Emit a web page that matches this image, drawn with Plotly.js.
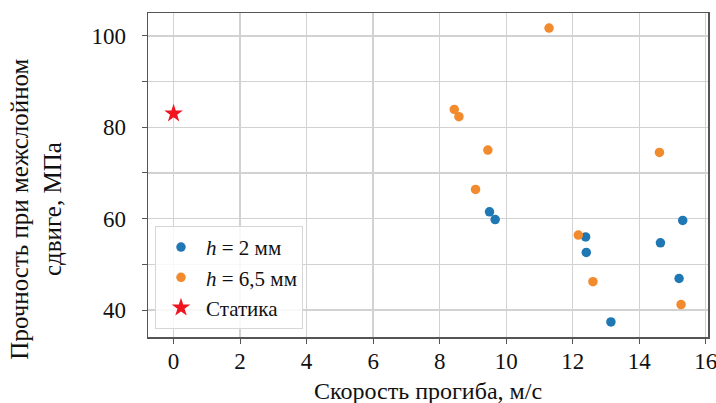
<!DOCTYPE html>
<html>
<head>
<meta charset="utf-8">
<script src="https://cdn.plot.ly/plotly-3.0.1.min.js"></script>
<style>
  html, body { margin: 0; padding: 0; background: #fff; }
  #chart { width: 716px; height: 403px; }
</style>
</head>
<body>
<div id="chart"></div>
<script>
// Interlaminar shear strength vs. deflection rate
const speedH2 = [9.50, 9.67, 12.39, 12.41, 13.15, 14.64, 15.31, 15.20];
const strengthH2 = [61.5, 59.8, 56.0, 52.6, 37.4, 54.7, 59.6, 46.9];

const speedH65 = [11.29, 8.44, 8.58, 9.45, 9.08, 12.17, 12.61, 14.61, 15.26];
const strengthH65 = [101.7, 83.9, 82.3, 75.0, 66.4, 56.4, 46.2, 74.5, 41.2];

const speedStatic = [0];
const strengthStatic = [83.0];

const seriesNames = ['<i>h</i> = 2 мм', '<i>h</i> = 6,5 мм', 'Статика'];

const xTickVals = [0, 2, 4, 6, 8, 10, 12, 14, 16];
const yTickVals = [40, 50, 60, 70, 80, 90, 100];
const yTickText = ['40', '', '60', '', '80', '', '100'];

const xTitle = 'Скорость прогиба, м/с';
const yTitle = 'Прочность при межслойном<br>сдвиге, МПа';

const serif = 'Liberation Serif, Times New Roman, serif';

const traces = [
  {
    x: speedH2, y: strengthH2, name: seriesNames[0],
    type: 'scatter', mode: 'markers',
    marker: { color: '#1f77b4', size: 9.5 }
  },
  {
    x: speedH65, y: strengthH65, name: seriesNames[1],
    type: 'scatter', mode: 'markers',
    marker: { color: '#f28a2e', size: 9.5 }
  },
  {
    x: speedStatic, y: strengthStatic, name: seriesNames[2],
    type: 'scatter', mode: 'markers',
    marker: { color: '#f0141e', size: 14, symbol: 'star' }
  }
];

const axisCommon = {
  showgrid: true,
  gridcolor: '#d2d2d2',
  gridwidth: 1.3,
  showline: true,
  mirror: true,
  linecolor: '#555',
  linewidth: 1.5,
  ticks: 'outside',
  ticklen: 5,
  tickwidth: 1,
  tickcolor: '#555',
  zeroline: false,
  ticklabeloverflow: 'allow',
  tickfont: { family: serif, size: 23, color: '#111' }
};

const layout = {
  width: 716,
  height: 403,
  margin: { l: 148, r: 8, t: 13, b: 66 },
  paper_bgcolor: '#fff',
  plot_bgcolor: '#fff',
  showlegend: true,
  xaxis: Object.assign({}, axisCommon, {
    range: [-0.77, 16.07],
    tickmode: 'array',
    tickvals: xTickVals,
    ticklabelstandoff: -2
  }),
  yaxis: Object.assign({}, axisCommon, {
    range: [34.1, 105.0],
    tickmode: 'array',
    tickvals: yTickVals,
    ticktext: yTickText,
    ticklabelstandoff: 11
  }),
  annotations: [
    {
      text: xTitle, xref: 'paper', yref: 'paper',
      x: 0.5, y: -0.167, xanchor: 'center', yanchor: 'middle',
      showarrow: false, font: { family: serif, size: 24, color: '#111' }
    },
    {
      text: yTitle, xref: 'paper', yref: 'paper', textangle: -90,
      x: -0.200, y: 0.393, xanchor: 'center', yanchor: 'middle',
      showarrow: false, font: { family: serif, size: 25, color: '#111' }
    }
  ],
  legend: {
    x: 0.0125, y: 0.025, xanchor: 'left', yanchor: 'bottom',
    bgcolor: 'rgba(255,255,255,0.85)',
    bordercolor: '#d6d6d6', borderwidth: 1,
    font: { family: serif, size: 21, color: '#111' },
    tracegroupgap: 0,
    itemwidth: 40,
    itemsizing: 'trace'
  }
};

Plotly.newPlot('chart', traces, layout, { displayModeBar: false, staticPlot: true });
</script>
</body>
</html>
